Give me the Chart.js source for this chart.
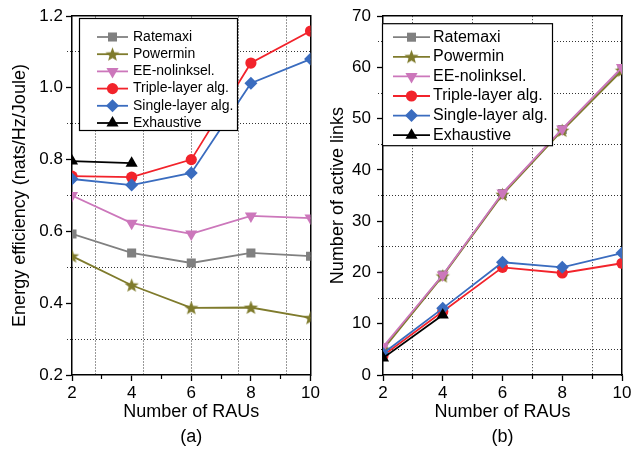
<!DOCTYPE html>
<html>
<head>
<meta charset="utf-8">
<script src="https://cdn.jsdelivr.net/npm/chart.js@4/dist/chart.umd.min.js"></script>
<style>
  body { margin: 0; background: #fff; width: 641px; height: 452px; overflow: hidden; position: relative; }
  canvas { position: absolute; top: 0; }
  #effChart { left: 0; }
  #linksChart { left: 322px; }
</style>
</head>
<body>
<canvas id="effChart" width="322" height="452"></canvas>
<canvas id="linksChart" width="319" height="452"></canvas>
<script>
const raus = [2, 4, 6, 8, 10];

// (a) energy efficiency (nats/Hz/Joule)
const effRatemaxi = [0.593, 0.540, 0.512, 0.540, 0.531];
const effPowermin = [0.531, 0.450, 0.387, 0.388, 0.359];
const effEENolink = [0.700, 0.623, 0.593, 0.643, 0.637];
const effTriple = [0.754, 0.751, 0.800, 1.069, 1.158];
const effSingle = [0.746, 0.729, 0.763, 1.013, 1.080];
const effExhaustive = [0.796, 0.790, null, null, null];

// (b) number of active links
const linksRatemaxi = [5.2, 19.5, 35.4, 47.9, 59.8];
const linksPowermin = [5.0, 19.3, 35.2, 47.7, 59.4];
const linksEENolink = [5.5, 19.5, 35.5, 48.0, 60.0];
const linksTriple = [3.8, 12.4, 21.0, 19.9, 21.8];
const linksSingle = [4.2, 13.0, 22.0, 21.0, 23.8];
const linksExhaustive = [3.3, 11.7, null, null, null];

// tick / grid positions
const xTicks = [2, 4, 6, 8, 10];
const xMinor = [3, 5, 7, 9];
const effXGrid = [2.8, 4.4, 6.0, 7.6, 9.2];
const effTicks = [0.2, 0.4, 0.6, 0.8, 1.0, 1.2];
const effGrid = [0.3, 0.5, 0.7, 0.9, 1.1];
const linksTicks = [0, 10, 20, 30, 40, 50, 60, 70];
const linksGrid = [5, 15, 25, 35, 45, 55, 65];

const FONT = 'Arial, "Liberation Sans", sans-serif';
Chart.defaults.font.family = FONT;
Chart.defaults.color = '#000';

// filled five point star for Powermin
function starImage(color, r) {
  const c = document.createElement('canvas');
  c.width = c.height = Math.ceil(r * 2 + 2);
  const g = c.getContext('2d');
  const cx = c.width / 2, cy = c.height / 2 + 0.5;
  g.beginPath();
  for (let i = 0; i < 10; i++) {
    const rr = i % 2 ? r * 0.42 : r;
    const a = -Math.PI / 2 + i * Math.PI / 5;
    g.lineTo(cx + rr * Math.cos(a), cy + rr * Math.sin(a));
  }
  g.closePath();
  g.fillStyle = color;
  g.fill();
  return c;
}

const C = {
  gray: '#808080', olive: '#7f7b2c', pink: '#cc77bb',
  red: '#f2232b', blue: '#3a6cbf', black: '#000000'
};
const star = starImage(C.olive, 7.5);

function series(label, ys, color, style, radius, rot) {
  return {
    label: label,
    data: raus.map((x, i) => ({ x: x, y: ys[i] })),
    borderColor: color,
    backgroundColor: color,
    pointBackgroundColor: color,
    pointBorderColor: color,
    borderWidth: 1.8,
    pointBorderWidth: 0,
    pointStyle: style,
    pointRadius: radius,
    pointRotation: rot || 0,
    spanGaps: false,
    tension: 0
  };
}

function makeSets(r, p, e, t, s, x) {
  const sets = [
    series('Ratemaxi', r, C.gray, 'rect', 6.4),
    series('Powermin', p, C.olive, star, 7),
    series('EE-nolinksel.', e, C.pink, 'triangle', 7, 180),
    series('Triple-layer alg.', t, C.red, 'circle', 5.6),
    series('Single-layer alg.', s, C.blue, 'rectRot', 6.5),
    series('Exhaustive', x, C.black, 'triangle', 7)
  ];
  sets.forEach((d, i) => { d.order = sets.length - i; });
  return sets;
}

function drawMarker(ctx, ds, x, y) {
  ctx.fillStyle = ds.pointBackgroundColor;
  ctx.strokeStyle = ds.pointBorderColor;
  if (Chart.helpers && Chart.helpers.drawPoint) {
    Chart.helpers.drawPoint(ctx, {
      pointStyle: ds.pointStyle, radius: ds.pointRadius,
      rotation: ds.pointRotation, borderWidth: 0
    }, x, y);
  } else if (ds.pointStyle instanceof HTMLCanvasElement) {
    ctx.drawImage(ds.pointStyle, x - ds.pointStyle.width / 2, y - ds.pointStyle.height / 2);
  } else {
    ctx.beginPath(); ctx.arc(x, y, ds.pointRadius, 0, Math.PI * 2); ctx.fill();
  }
}

// legend drawn as a framed box inside the plot area
const boxLegend = {
  id: 'boxLegend',
  afterDraw(chart, args, o) {
    const ctx = chart.ctx, a = chart.chartArea;
    const x0 = a.left + o.dx, y0 = a.top + o.dy;
    ctx.save();
    ctx.fillStyle = '#fff';
    ctx.fillRect(x0, y0, o.w, o.h);
    ctx.strokeStyle = '#000';
    ctx.lineWidth = 1.2;
    ctx.strokeRect(x0 + 0.5, y0 + 0.5, o.w, o.h);
    ctx.font = o.font + 'px ' + FONT;
    ctx.textBaseline = 'middle';
    chart.data.datasets.forEach((ds, i) => {
      const y = y0 + o.first + i * o.step;
      ctx.strokeStyle = ds.borderColor;
      ctx.lineWidth = ds.borderWidth;
      ctx.beginPath();
      ctx.moveTo(x0 + o.l0, y);
      ctx.lineTo(x0 + o.l1, y);
      ctx.stroke();
      drawMarker(ctx, ds, x0 + (o.l0 + o.l1) / 2, y);
      ctx.fillStyle = '#000';
      ctx.fillText(ds.label, x0 + o.tx, y);
    });
    ctx.restore();
  }
};

function fixed(vals) {
  return s => { s.ticks = vals.map(v => ({ value: v })); };
}
const DOT = '#333';

function buildScales(cfg) {
  const s = {
    x: {
      type: 'linear', position: 'bottom', min: 2, max: 10, weight: 1,
      afterBuildTicks: fixed(xTicks),
      afterFit: sc => { sc.height = 77; },
      grid: { drawOnChartArea: false, tickLength: 6, tickColor: '#000', tickWidth: 1.3 },
      border: { display: true, color: '#000', width: 1.5 },
      ticks: { font: { size: 17 }, padding: 2, autoSkip: false, maxRotation: 0 },
      title: {
        display: true, text: ['Number of RAUs', cfg.tag],
        font: { size: 18, lineHeight: 1.39 }, padding: { top: 0, bottom: 2.5 }
      }
    },
    y: {
      type: 'linear', position: 'left', min: cfg.ymin, max: cfg.ymax, weight: 1,
      afterBuildTicks: fixed(cfg.yTicks),
      afterFit: sc => { sc.width = cfg.yWidth; },
      grid: { drawOnChartArea: false, tickLength: 6, tickColor: '#000', tickWidth: 1.3 },
      border: { display: true, color: '#000', width: 1.5 },
      ticks: { font: { size: 17 }, padding: cfg.yPad, autoSkip: false, callback: cfg.yFmt },
      title: {
        display: true, text: cfg.yTitle,
        font: { size: 18, lineHeight: 1.2 }, padding: { top: cfg.yTitlePad, bottom: 0 }
      }
    },
    yg: {
      type: 'linear', position: 'left', min: cfg.ymin, max: cfg.ymax, weight: 0,
      afterBuildTicks: fixed(cfg.yGrid),
      afterFit: sc => { sc.width = 0; },
      grid: { color: DOT, lineWidth: 1, tickLength: 5, tickColor: DOT, tickBorderDash: [1, 2] },
      border: { display: false, dash: [1, 2] },
      ticks: { display: false }
    },
    yr: {
      type: 'linear', position: 'right', min: cfg.ymin, max: cfg.ymax,
      afterFit: sc => { sc.width = 0; },
      grid: { display: false },
      border: { display: true, color: '#000', width: 1.5 },
      ticks: { display: false }
    }
  };
  if (cfg.xGridTop) {
    s.xg = {
      type: 'linear', position: 'top', min: 2, max: 10,
      afterBuildTicks: fixed(cfg.xGrid),
      afterFit: sc => { sc.height = 0; },
      grid: { color: DOT, lineWidth: 1, drawTicks: false },
      border: { display: true, color: '#000', width: 1.5, dash: [1, 2] },
      ticks: { display: false }
    };
    s.xm = {
      type: 'linear', position: 'bottom', min: 2, max: 10, weight: 0,
      afterBuildTicks: fixed(xMinor),
      afterFit: sc => { sc.height = 0; },
      grid: { drawOnChartArea: false, tickLength: 4, tickColor: '#000', tickWidth: 1.2 },
      border: { display: false },
      ticks: { display: false }
    };
  } else {
    s.xg = {
      type: 'linear', position: 'bottom', min: 2, max: 10, weight: 0,
      afterBuildTicks: fixed(cfg.xGrid),
      afterFit: sc => { sc.height = 0; },
      grid: { color: DOT, lineWidth: 1, tickLength: 4, tickColor: '#000', tickWidth: 1.2 },
      border: { display: false, dash: [1, 2] },
      ticks: { display: false }
    };
    s.xt = {
      type: 'linear', position: 'top', min: 2, max: 10,
      afterFit: sc => { sc.height = 0; },
      grid: { display: false },
      border: { display: true, color: '#000', width: 1.5 },
      ticks: { display: false }
    };
  }
  return s;
}

function makeChart(id, sets, cfg, legend, padding) {
  return new Chart(document.getElementById(id).getContext('2d'), {
    type: 'line',
    data: { datasets: sets },
    plugins: [boxLegend],
    options: {
      responsive: false,
      animation: false,
      layout: { padding: padding },
      plugins: { legend: { display: false }, tooltip: { enabled: false }, boxLegend: legend },
      scales: buildScales(cfg)
    }
  });
}

makeChart('effChart',
  makeSets(effRatemaxi, effPowermin, effEENolink, effTriple, effSingle, effExhaustive),
  {
    tag: '(a)', ymin: 0.2, ymax: 1.2, yTicks: effTicks, yGrid: effGrid,
    yWidth: 72, yPad: 3, yTitlePad: 9, yTitle: 'Energy efficiency (nats/Hz/Joule)',
    yFmt: v => v.toFixed(1), xGrid: effXGrid, xGridTop: true
  },
  { dx: 7, dy: 2, w: 158, h: 112, first: 19, step: 17.2, l0: 18, l1: 49, tx: 54, font: 14 },
  { top: 16, right: 9, bottom: 0, left: 0 });

makeChart('linksChart',
  makeSets(linksRatemaxi, linksPowermin, linksEENolink, linksTriple, linksSingle, linksExhaustive),
  {
    tag: '(b)', ymin: 0, ymax: 70, yTicks: linksTicks, yGrid: linksGrid,
    yWidth: 61, yPad: 6, yTitlePad: 5, yTitle: 'Number of active links',
    yFmt: v => String(v), xGrid: xMinor, xGridTop: false
  },
  { dx: -1, dy: 7, w: 170, h: 122, first: 14, step: 19.6, l0: 11, l1: 48, tx: 51, font: 16 },
  { top: 16, right: 19, bottom: 0, left: 0 });
</script>
</body>
</html>
